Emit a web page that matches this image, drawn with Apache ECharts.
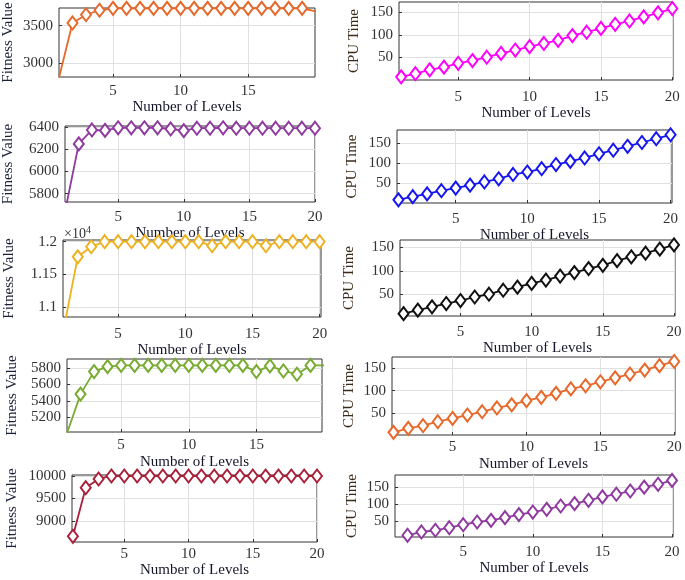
<!DOCTYPE html>
<html>
<head>
<meta charset="utf-8">
<script src="https://cdn.jsdelivr.net/npm/echarts@6/dist/echarts.min.js"></script>
<style>
html,body{margin:0;padding:0;background:#fff;}
#chart{width:685px;height:580px;}
</style>
</head>
<body>
<div id="chart"></div>
<script>
// ---- data ----
const levels = [1,2,3,4,5,6,7,8,9,10,11,12,13,14,15,16,17,18,19,20];

const fitness1 = [2805,3535,3645,3705,3730,3730,3730,3730,3730,3730,3730,3730,3730,3730,3730,3730,3730,3730,3730,3690];
const cpu1     = [7,14,22.5,28.5,37,43,50.5,59,66.5,74,81,88,98.5,106,114.5,123.5,131,140,149,158.5];
const fitness2 = [5665,6250,6376,6372,6396,6396,6396,6396,6385,6370,6392,6392,6396,6392,6392,6392,6392,6392,6392,6392];
const cpu2     = [8,16,23,31,37.5,45,53,61,72,78,86.5,97,105,113.5,124,133,143,152.5,162,172];
const fitness3 = [10713,11768,11923,12000,12000,12000,12000,12000,12000,12000,12000,11938,12000,12000,12000,11938,12000,12000,12000,12000];
const cpu3     = [9,16.5,23.5,30.5,37,44.5,50.5,59,65.5,73.5,80.5,89,96.5,105,112,122,130,138,146.5,155.5];
const fitness4 = [5000,5482,5759,5820,5835,5835,5835,5835,5835,5835,5835,5835,5835,5835,5759,5829,5767,5727,5835,5835];
const cpu4     = [6,15,21,30,37.5,45,52.5,61,68,77.5,85,94,104,111,120,129,137.5,146.5,156.5,166];
const fitness5 = [8657,9739,9933,10000,10000,10000,10000,10000,10000,10000,10000,10000,10000,10000,10000,10000,10000,10000,10000,10000];
const cpu5     = [8,18,23,30.5,39.5,47.5,52.5,60.5,69.5,77,85,95,102,112,122,130,139.5,151,159.5,171];

const xTicksFull = [5,10,15,20];
const xTicksShort = [5,10,15];
const yTicks1L = [3000,3500];
const yTicks2L = [5800,6000,6200,6400];
const yTicks3L = [11000,11500,12000];
const yTicks4L = [5200,5400,5600,5800];
const yTicks5L = [9000,9500,10000];
const yTicksCpu = [50,100,150];

const xName = 'Number of Levels';
const fitName = 'Fitness Value';
const cpuName = 'CPU Time';

// ---- panel layout & style ----
const panels = [
  {data: fitness1, color:'#E8682A', grid:[58,8,257,69],   x:[1,19.95], y:[2814,3735], xt:xTicksShort, yt:yTicks1L, name:fitName, xm:7,  xg:23,  yg:43},
  {data: cpu1,     color:'#FF00FF', grid:[399,2,274,78],  x:[0.85,20.05], y:[0,173], xt:xTicksFull, yt:yTicksCpu, name:cpuName, xm:10, xg:25, yg:37},
  {data: fitness2, color:'#8E3A9E', grid:[65,126,250,76], x:[0.95,20], y:[5724,6412], xt:xTicksFull, yt:yTicks2L, name:fitName, xm:8,  xg:20,  yg:49},
  {data: cpu2,     color:'#1515F0', grid:[397,130,275,73],x:[0.9,20.1], y:[0,184], xt:xTicksFull, yt:yTicksCpu, name:cpuName, xm:9,  xg:19,  yg:37},
  {data: fitness3, color:'#EDB120', grid:[63,240,258,77], x:[0.9,20.1], y:[10846,12026], xt:xTicksFull, yt:yTicks3L, name:fitName, xm:10, xg:24, yg:46, e4:true},
  {data: cpu3,     color:'#111111', grid:[400,240,275,76],x:[0.75,20.07], y:[4,166], xt:xTicksFull, yt:yTicksCpu, name:cpuName, xm:9,  xg:23,  yg:43},
  {data: fitness4, color:'#77AC30', grid:[67,359,255,73], x:[1,19.85], y:[5016,5914], xt:xTicksShort, yt:yTicks4L, name:fitName, xm:6, xg:23, yg:47},
  {data: cpu4,     color:'#E8682A', grid:[392,357,283,78],x:[0.9,20.05], y:[0,176], xt:xTicksFull, yt:yTicksCpu, name:cpuName, xm:5,  xg:22,  yg:35},
  {data: fitness5, color:'#A8203A', grid:[72,475,245,67], x:[0.93,20], y:[8530,10022], xt:xTicksFull, yt:yTicks5L, name:fitName, xm:5, xg:21, yg:52},
  {data: cpu5,     color:'#8E3A9E', grid:[395,475,278,62],x:[0.1,20.07], y:[3,187], xt:xTicksFull, yt:yTicksCpu, name:cpuName, xm:8,  xg:24,  yg:35}
];

const FONT = 'Liberation Serif';
const grids = [], xAxes = [], yAxes = [], series = [];
panels.forEach((p, i) => {
  grids.push({left:p.grid[0], top:p.grid[1], width:p.grid[2], height:p.grid[3],
    show:true, borderColor:'#333333', borderWidth:1, backgroundColor:'#fff', containLabel:false});
  xAxes.push({type:'value', gridIndex:i, min:p.x[0], max:p.x[1],
    name:xName, nameLocation:'middle', nameGap:p.xg,
    nameTextStyle:{fontFamily:FONT, fontSize:15, color:'#15152a'},
    axisLine:{show:false},
    axisTick:{show:true, inside:true, length:3, customValues:p.xt, lineStyle:{color:'#333333'}},
    axisLabel:{customValues:p.xt, margin:p.xm, fontFamily:FONT, fontSize:15, color:'#333333'},
    splitLine:{show:true, lineStyle:{color:'#e0e0e0', width:1}}
  });
  yAxes.push({type:'value', gridIndex:i, min:p.y[0], max:p.y[1],
    name:p.name, nameLocation:'middle', nameGap:p.yg,
    nameTextStyle:{fontFamily:FONT, fontSize:15, color: p.name===cpuName ? '#3a2a18' : '#1a2036'},
    axisLine:{show:false},
    axisTick:{show:true, inside:true, length:3, customValues:p.yt, lineStyle:{color:'#333333'}},
    axisLabel:{customValues:p.yt, margin:6, fontFamily:FONT, fontSize:15, color:'#333333',
      formatter: p.e4 ? (v => String(+(v/10000).toFixed(2))) : (v => String(v))},
    splitLine:{show:true, lineStyle:{color:'#e0e0e0', width:1}}
  });
  series.push({type:'line', xAxisIndex:i, yAxisIndex:i,
    data: levels.map((lv, k) => [lv, p.data[k]]),
    symbol:'emptyDiamond', symbolSize:[10,13], clip:true,
    lineStyle:{color:p.color, width:1.8},
    itemStyle:{color:p.color, borderColor:p.color, borderWidth:1.8},
    animation:false
  });
});

const chart = echarts.init(document.getElementById('chart'), null, {renderer:'canvas'});
chart.setOption({
  backgroundColor:'#fff',
  animation:false,
  grid: grids, xAxis: xAxes, yAxis: yAxes, series: series,
  graphic:[{type:'text', left:64, top:225,
    style:{text:'{a|×10}{b|4}', rich:{
      a:{fontFamily:FONT, fontSize:14, fill:'#333333'},
      b:{fontFamily:FONT, fontSize:10, fill:'#333333', verticalAlign:'top', padding:[0,0,8,0]}
    }}}]
});
</script>
</body>
</html>
